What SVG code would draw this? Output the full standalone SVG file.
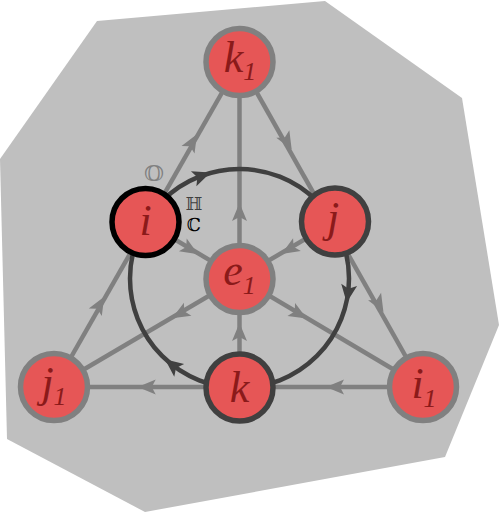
<svg xmlns="http://www.w3.org/2000/svg" xmlns:xlink="http://www.w3.org/1999/xlink" width="500" height="513" viewBox="0 0 500 513">
<style>
.edge{stroke:#808080;stroke-width:4.5;fill:none}
.ring{stroke:#404040;stroke-width:4.5;fill:none}
.node{fill:#e65656;stroke-width:5.5}
.n-gray{stroke:#808080}
.n-dark{stroke:#404040}
.n-black{stroke:#000000}
.lbl{font-family:"Liberation Serif","Times New Roman",serif;font-style:italic;font-size:44px;fill:#8b1a1a;text-anchor:middle}
.sub{font-size:26px}
.ds{font-family:"DejaVu Serif","DejaVu Sans",serif;text-anchor:middle}
</style>
<defs>
<path id="ah" d="M9,0 L-9,-7.5 L-5,0 L-9,7.5 Z" fill="#808080"/>
<path id="ahd" d="M9,0 L-9,-8 L-5,0 L-9,8 Z" fill="#404040"/>
</defs>
<polygon points="97,21 325,1 462,98 499,325 445,457 145,512 7,439 0,159" fill="#bfbfbf"/>
<g id="connectors">
<path class="edge" d="M54,387 L239.5,62"/>
<path class="edge" d="M239.5,62 L423,387"/>
<path class="edge" d="M423,387 L54,387"/>
<path class="edge" d="M239.5,62 L239.5,387.5"/>
<path class="edge" d="M145.5,222 L423,387"/>
<path class="edge" d="M335,221.5 L54,387"/>
<use xlink:href="#ah" transform="translate(99.75,304.5) rotate(-60.3)"/>
<use xlink:href="#ah" transform="translate(192.5,142) rotate(-60.3)"/>
<use xlink:href="#ah" transform="translate(287.25,141.75) rotate(60.4)"/>
<use xlink:href="#ah" transform="translate(379,304.25) rotate(60.4)"/>
<use xlink:href="#ah" transform="translate(335,387) rotate(180)"/>
<use xlink:href="#ah" transform="translate(146.75,387) rotate(180)"/>
<use xlink:href="#ah" transform="translate(239.5,212) rotate(-90)"/>
<use xlink:href="#ah" transform="translate(239.5,332) rotate(-90)"/>
<use xlink:href="#ah" transform="translate(190.5,249.5) rotate(31.2)"/>
<use xlink:href="#ah" transform="translate(299,314) rotate(30.5)"/>
<use xlink:href="#ah" transform="translate(289.25,249.25) rotate(148.9)"/>
<use xlink:href="#ah" transform="translate(179.9,313.7) rotate(149.8)"/>
<circle class="ring" cx="239.5" cy="278.5" r="109.5"/>
<use xlink:href="#ahd" transform="translate(202.1,175.6) rotate(340)"/>
<use xlink:href="#ahd" transform="translate(347.9,293.7) rotate(98)"/>
<use xlink:href="#ahd" transform="translate(172.1,364.8) rotate(218)"/>
</g>
<g id="node-k1"><circle class="node n-gray" cx="239.5" cy="62" r="33.5"/><text class="lbl" x="240" y="72">k<tspan class="sub" dy="8">1</tspan></text></g>
<g id="node-i"><circle class="node n-black" cx="145.5" cy="222" r="33.5"/><text class="lbl" x="145.5" y="235">i</text></g>
<g id="node-j"><circle class="node n-dark" cx="335" cy="221.5" r="33.5"/><text class="lbl" x="333" y="232">j</text></g>
<g id="node-e1"><circle class="node n-gray" cx="239.5" cy="279" r="33.5"/><text class="lbl" x="239.5" y="285">e<tspan class="sub" dy="9">1</tspan></text></g>
<g id="node-j1"><circle class="node n-gray" cx="54" cy="387" r="33.5"/><text class="lbl" x="54" y="397">j<tspan class="sub" dy="8">1</tspan></text></g>
<g id="node-k"><circle class="node n-dark" cx="239.5" cy="387.5" r="33.5"/><text class="lbl" x="239.5" y="401.5">k</text></g>
<g id="node-i1"><circle class="node n-gray" cx="423" cy="387" r="33.5"/><text class="lbl" x="424" y="398">i<tspan class="sub" dy="9">1</tspan></text></g>
<g id="labels">
<text class="ds" x="154" y="181" font-size="23" fill="#808080">𝕆</text>
<text class="ds" x="194" y="209.5" font-size="18" fill="#404040">ℍ</text>
<text class="ds" x="194" y="231" font-size="18" fill="#000000">ℂ</text>
</g>
</svg>
